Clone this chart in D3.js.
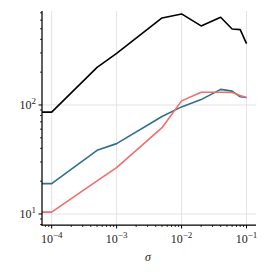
<!DOCTYPE html>
<html>
<head>
<meta charset="utf-8">
<script src="https://cdn.jsdelivr.net/npm/d3@7"></script>
<style>
  body { margin: 0; background: #fff; }
  text { font-family: "Liberation Serif", "DejaVu Serif", serif; }
</style>
</head>
<body>
<div id="chart"></div>
<script>
// sigma = 0 is clipped to the left edge, like matplotlib's log scale does
const sigma = [0, 1e-4, 5e-4, 1e-3, 5e-3, 1e-2, 2e-2, 4e-2, 6e-2, 8e-2, 1e-1];
const blackVals = [86, 86, 221, 298, 628, 684, 531, 638, 498, 491, 365];
const blueVals = [19, 19, 38.4, 44.2, 78.3, 96, 112, 139, 134, 119, 117];
const redVals = [10.4, 10.4, 20.1, 26.6, 61.9, 109, 131, 131, 130, 122, 117];
const xMajor = [1e-4, 1e-3, 1e-2, 1e-1];
const xMajorExp = ['\u22124', '\u22123', '\u22122', '\u22121'];
const yMajor = [10, 100];
const yMajorExp = ['1', '2'];

const series = [
  { vals: blackVals, color: '#000000' },
  { vals: blueVals, color: '#2f6f92' },
  { vals: redVals, color: '#ef6f6c' },
];

const W = 272, H = 276;
const mLeft = 42, mRight = 256, mTop = 11, mBottom = 225;

const svg = d3.select('#chart').append('svg')
  .attr('width', W).attr('height', H)
  .style('background', '#fff');

const x = d3.scaleLog().domain([Math.pow(10, -4.149), Math.pow(10, -0.854)]).range([mLeft, mRight]);
const y = d3.scaleLog().domain([Math.pow(10, 0.899), Math.pow(10, 2.862)]).range([mBottom, mTop]);
const xPos = s => s > 0 ? x(s) : mLeft;

// grid
svg.append('g').selectAll('line').data(xMajor).enter().append('line')
  .attr('x1', d => x(d)).attr('x2', d => x(d))
  .attr('y1', mTop).attr('y2', mBottom)
  .attr('stroke', '#dcdcdc').attr('stroke-width', 0.8);
svg.append('g').selectAll('line').data(yMajor).enter().append('line')
  .attr('x1', mLeft).attr('x2', mRight)
  .attr('y1', d => y(d)).attr('y2', d => y(d))
  .attr('stroke', '#dcdcdc').attr('stroke-width', 0.8);

// lines
const line = d3.line()
  .x((d, i) => xPos(sigma[i]))
  .y(d => y(d));
series.forEach(s => {
  svg.append('path')
    .datum(s.vals)
    .attr('d', line)
    .attr('fill', 'none')
    .attr('stroke', s.color)
    .attr('stroke-width', 1.6)
    .attr('stroke-linejoin', 'round');
});

// minor ticks
const minor = (lo, hi) => {
  const out = [];
  for (let e = -6; e <= 4; e++) {
    for (let m = 2; m <= 9; m++) {
      const v = m * Math.pow(10, e);
      if (v >= lo && v <= hi) out.push(v);
    }
  }
  return out;
};
const xd = x.domain(), yd = y.domain();
svg.append('g').selectAll('line').data(minor(xd[0], xd[1])).enter().append('line')
  .attr('x1', d => x(d)).attr('x2', d => x(d))
  .attr('y1', mBottom).attr('y2', mBottom + 2)
  .attr('stroke', '#000').attr('stroke-width', 0.8);
svg.append('g').selectAll('line').data(minor(yd[0], yd[1])).enter().append('line')
  .attr('y1', d => y(d)).attr('y2', d => y(d))
  .attr('x1', mLeft).attr('x2', mLeft - 2)
  .attr('stroke', '#000').attr('stroke-width', 0.8);

// major ticks
svg.append('g').selectAll('line').data(xMajor).enter().append('line')
  .attr('x1', d => x(d)).attr('x2', d => x(d))
  .attr('y1', mBottom).attr('y2', mBottom + 3.5)
  .attr('stroke', '#000').attr('stroke-width', 1);
svg.append('g').selectAll('line').data(yMajor).enter().append('line')
  .attr('y1', d => y(d)).attr('y2', d => y(d))
  .attr('x1', mLeft).attr('x2', mLeft - 3.5)
  .attr('stroke', '#000').attr('stroke-width', 1);

// spines
svg.append('line').attr('x1', mLeft).attr('x2', mLeft).attr('y1', mTop).attr('y2', mBottom + 0.6)
  .attr('stroke', '#000').attr('stroke-width', 1.25);
svg.append('line').attr('x1', mLeft - 0.6).attr('x2', mRight).attr('y1', mBottom).attr('y2', mBottom)
  .attr('stroke', '#000').attr('stroke-width', 1.25);

// tick labels
const xl = svg.append('g').selectAll('text').data(xMajor).enter().append('text')
  .attr('x', d => x(d)).attr('y', mBottom + 17.5)
  .attr('text-anchor', 'middle')
  .attr('font-size', 12).attr('fill', '#222');
xl.append('tspan').text('10');
xl.append('tspan').attr('dy', -5).attr('font-size', 9).text((d, i) => xMajorExp[i]);

const yl = svg.append('g').selectAll('text').data(yMajor).enter().append('text')
  .attr('x', mLeft - 6).attr('y', d => y(d) + 4)
  .attr('text-anchor', 'end')
  .attr('font-size', 12).attr('fill', '#222');
yl.append('tspan').text('10');
yl.append('tspan').attr('dy', -5).attr('font-size', 9).text((d, i) => yMajorExp[i]);

// axis label
svg.append('text')
  .attr('x', (mLeft + mRight) / 2 - 1).attr('y', mBottom + 36)
  .attr('text-anchor', 'middle')
  .attr('font-size', 12).attr('font-style', 'italic').attr('fill', '#222')
  .text('\u03c3');
</script>
</body>
</html>
